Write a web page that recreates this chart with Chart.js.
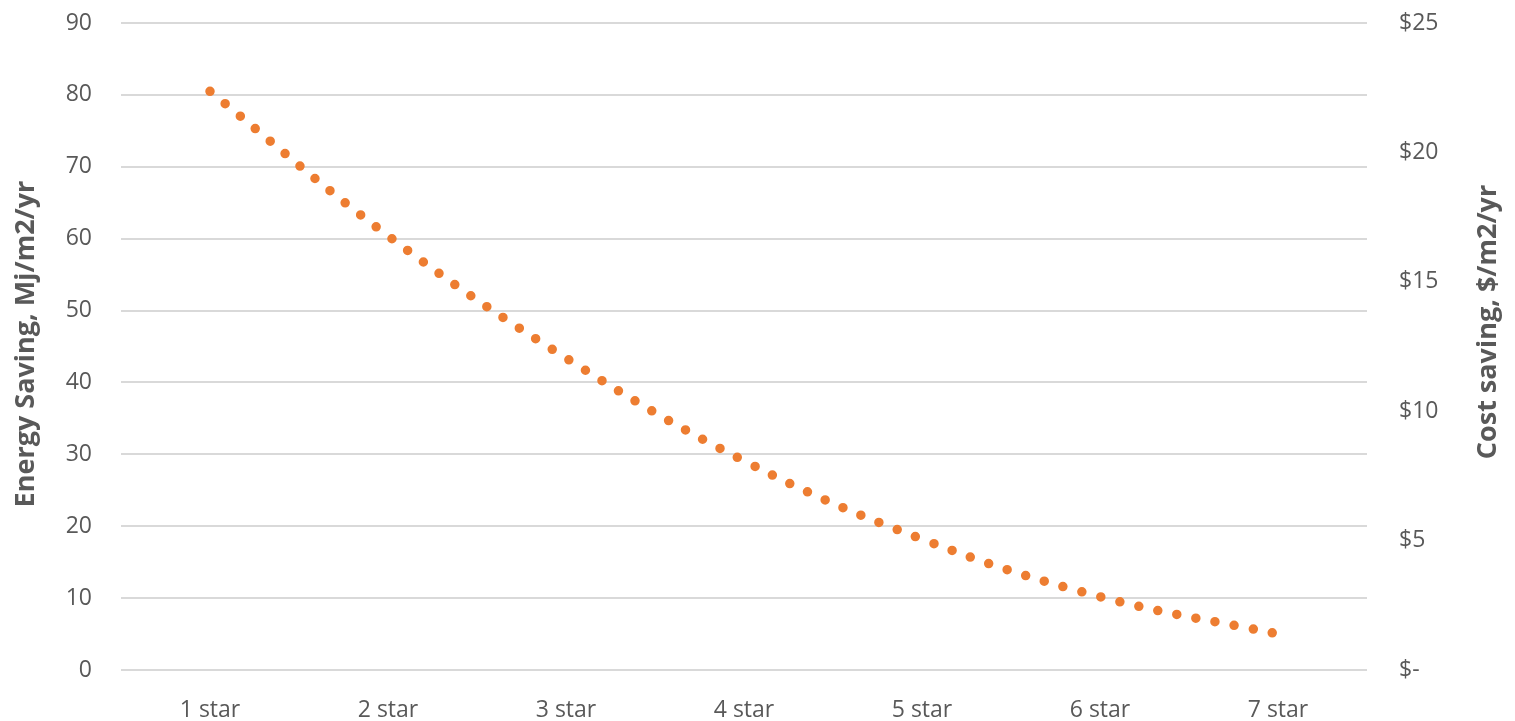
<!DOCTYPE html>
<html>
<head>
<meta charset="utf-8">
<script src="https://cdn.jsdelivr.net/npm/chart.js@4.4.1/dist/chart.umd.min.js"></script>
<style>
  html, body { margin: 0; padding: 0; background: #ffffff; }
  #wrap { width: 1515px; height: 721px; }
</style>
</head>
<body>
<div id="wrap"><canvas id="chart" width="1515" height="721"></canvas></div>
<script>
// Star ratings along the bottom axis
const categories = ['1 star', '2 star', '3 star', '4 star', '5 star', '6 star', '7 star'];
// Energy saving per star rating, MJ/m2/yr
const energySaving = [80.5, 60.4, 43.4, 29.1, 18.2, 10.2, 5.0];
// Left axis range and step (MJ/m2/yr)
const energyAxis = { min: 0, max: 90, step: 10 };
// Right axis range and step ($/m2/yr)
const costAxis = { min: 0, max: 25, step: 5 };
// Axis titles
const leftTitle = 'Energy Saving, Mj/m2/yr';
const rightTitle = 'Cost saving, $/m2/yr';

const textColor = '#595959';
const gridColor = '#d9d9d9';
const fontFamily = "'Open Sans', 'Liberation Sans', sans-serif";

// Both axis titles read bottom-to-top, so they are drawn here rather than by the scales
const axisTitles = {
  id: 'axisTitles',
  afterDraw(chart) {
    const ctx = chart.ctx;
    ctx.save();
    ctx.fillStyle = textColor;
    ctx.font = 'bold 27px ' + fontFamily;
    ctx.textAlign = 'center';
    ctx.textBaseline = 'middle';
    const draw = (text, x, y) => {
      ctx.save();
      ctx.translate(x, y);
      ctx.rotate(-Math.PI / 2);
      ctx.fillText(text, 0, 0);
      ctx.restore();
    };
    draw(leftTitle, 26, 344);
    draw(rightTitle, 1488, 322);
    ctx.restore();
  }
};

// Fixed axis sizes; the tick padding should not push the plot area down
const fixVertical = (width) => (scale) => {
  scale.width = width;
  scale.paddingTop = 0;
  scale.paddingBottom = 0;
};

new Chart(document.getElementById('chart'), {
  type: 'line',
  data: {
    labels: categories,
    datasets: [{
      label: 'Energy Saving',
      data: energySaving,
      yAxisID: 'y',
      borderColor: '#ed7d31',
      borderWidth: 9.5,
      borderDash: [0, 19.5],
      borderCapStyle: 'round',
      pointRadius: 0,
      tension: 0.4,
      fill: false
    }]
  },
  options: {
    responsive: false,
    animation: false,
    layout: { padding: { top: 23, left: 0, right: 0, bottom: 0 } },
    plugins: { legend: { display: false }, tooltip: { enabled: false } },
    scales: {
      x: {
        offset: true,
        grid: { display: false },
        border: { display: false },
        ticks: {
          color: textColor,
          font: { family: fontFamily, size: 23 },
          padding: 19
        },
        afterFit(scale) { scale.height = 51; }
      },
      y: {
        position: 'left',
        min: energyAxis.min,
        max: energyAxis.max,
        border: { display: false },
        grid: { color: gridColor, lineWidth: 2, drawTicks: false },
        ticks: {
          stepSize: energyAxis.step,
          color: textColor,
          font: { family: fontFamily, size: 23 },
          padding: 29
        },
        afterFit: fixVertical(121)
      },
      y1: {
        position: 'right',
        min: costAxis.min,
        max: costAxis.max,
        border: { display: false },
        grid: { display: false, drawTicks: false },
        ticks: {
          stepSize: costAxis.step,
          color: textColor,
          font: { family: fontFamily, size: 23 },
          padding: 32,
          callback: (v) => v === 0 ? '$-' : '$' + v
        },
        afterFit: fixVertical(148)
      }
    }
  },
  plugins: [axisTitles]
});
</script>
</body>
</html>
